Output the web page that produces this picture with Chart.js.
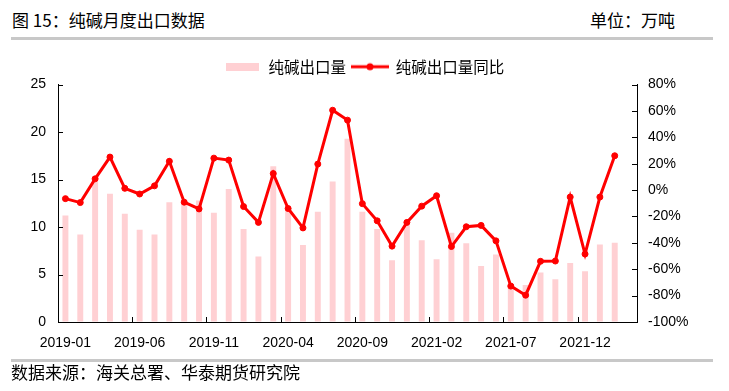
<!DOCTYPE html>
<html>
<head>
<meta charset="utf-8">
<script src="https://cdn.jsdelivr.net/npm/chart.js@4.4.1/dist/chart.umd.min.js"></script>
<style>
    body { margin: 0; background: #fff; }
    #wrap { position: relative; width: 729px; height: 391px; overflow: hidden; font-family: "Noto Sans CJK SC", sans-serif; color: #000; }
    #chart { position: absolute; left: 0; top: 0; }
    .txt { position: absolute; font-size: 17px; line-height: 22px; white-space: nowrap; }
    .rule { position: absolute; left: 11px; width: 702px; height: 3px; background: #c8c8c8; }
</style>
</head>
<body>
<div id="wrap">
    <div class="txt" style="left:12px; top:9px;">图 15：纯碱月度出口数据</div>
    <div class="txt" style="left:590px; top:9px;">单位：万吨</div>
    <div class="rule" style="top:37px;"></div>
    <canvas id="chart" width="729" height="391"></canvas>
    <div class="rule" style="top:359px;"></div>
    <div class="txt" style="left:11px; top:361px;">数据来源：海关总署、华泰期货研究院</div>
</div>
<script>
// Months on the x axis (last slot is empty in the source chart)
const months = [
    '2019-01', '2019-02', '2019-03', '2019-04', '2019-05', '2019-06', '2019-07', '2019-08', '2019-09', '2019-10', '2019-11', '2019-12',
    '2020-01', '2020-02', '2020-03', '2020-04', '2020-05', '2020-06', '2020-07', '2020-08', '2020-09', '2020-10', '2020-11', '2020-12',
    '2021-01', '2021-02', '2021-03', '2021-04', '2021-05', '2021-06', '2021-07', '2021-08', '2021-09', '2021-10', '2021-11', '2021-12',
    '2022-01', '2022-02', '2022-03'
];

// Export volume, 10k tonnes
const exportVolume = [
    11.2, 9.2, 14.8, 13.5, 11.4, 9.7, 9.2, 12.6, 12.5, 12.8, 11.5, 14.0,
    9.8, 6.9, 16.4, 11.8, 8.1, 11.6, 14.8, 19.3, 11.6, 9.8, 6.5, 10.2,
    8.6, 6.6, 9.4, 8.3, 5.9, 7.1, 4.0, 3.9, 5.2, 4.5, 6.2, 5.35,
    8.15, 8.35
];

// Year-on-year change, %
const exportYoY = [
    -6.5, -9.5, 8.5, 25, 1.3, -3, 3.2, 21.8, -9.2, -14.3, 24.2, 22.7,
    -12.5, -24.5, 12.5, -14, -28.7, 19.7, 60.5, 53, -10.3, -23.3, -42.5, -24.5,
    -12.2, -4.3, -42.8, -27.8, -26.8, -38.5, -72.8, -79.7, -54, -53.8, -5.3, -48.5,
    -5.3, 26
];

const leftTicks = { min: 0, max: 25, step: 5 };
const rightTicks = { min: -100, max: 80, step: 20 };

const barColor = '#ffd0d3';
const lineColor = '#ff0000';
const tickFont = { family: '"Liberation Sans", Arial, sans-serif', size: 14 };

// Legend icons
function makeIcon(w, h, draw) {
    const c = document.createElement('canvas');
    c.width = w; c.height = h;
    draw(c.getContext('2d'));
    return c;
}
const barIcon = makeIcon(33, 8, g => { g.fillStyle = barColor; g.fillRect(0, 0, 33, 8); });
const lineIcon = makeIcon(38, 10, g => {
    g.strokeStyle = lineColor; g.lineWidth = 3;
    g.beginPath(); g.moveTo(0, 5); g.lineTo(38, 5); g.stroke();
    g.fillStyle = lineColor;
    g.beginPath(); g.arc(19, 5, 3.5, 0, Math.PI * 2); g.fill();
});

// Tick marks point inward like the source chart
const innerTicks = {
    id: 'innerTicks',
    afterDraw(chart) {
        const { ctx, chartArea, scales } = chart;
        ctx.save();
        ctx.strokeStyle = '#000';
        ctx.lineWidth = 1;
        ctx.beginPath();
        const xs = scales.x;
        const step = xs.getPixelForValue(1) - xs.getPixelForValue(0);
        for (let i = 5; i < months.length; i += 5) {
            const px = Math.round(xs.getPixelForValue(i) - step / 2) + 0.5;
            ctx.moveTo(px, chartArea.bottom);
            ctx.lineTo(px, chartArea.bottom - 5);
        }
        for (let v = leftTicks.min; v <= leftTicks.max; v += leftTicks.step) {
            const py = Math.round(scales.y.getPixelForValue(v)) + 0.5;
            ctx.moveTo(chartArea.left, py);
            ctx.lineTo(chartArea.left + 5, py);
        }
        for (let v = rightTicks.min; v <= rightTicks.max; v += rightTicks.step) {
            const py = Math.round(scales.y1.getPixelForValue(v)) + 0.5;
            ctx.moveTo(chartArea.right, py);
            ctx.lineTo(chartArea.right - 5, py);
        }
        ctx.stroke();
        ctx.restore();
    }
};

new Chart(document.getElementById('chart'), {
    data: {
        labels: months,
        datasets: [
            {
                type: 'bar',
                label: '纯碱出口量',
                data: exportVolume,
                backgroundColor: barColor,
                yAxisID: 'y',
                categoryPercentage: 1,
                barPercentage: 0.4,
                order: 2
            },
            {
                type: 'line',
                label: '纯碱出口量同比',
                data: exportYoY,
                borderColor: lineColor,
                backgroundColor: lineColor,
                borderWidth: 3,
                pointRadius: 3,
                pointBorderWidth: 1,
                pointHoverRadius: 3,
                tension: 0,
                yAxisID: 'y1',
                order: 1
            }
        ]
    },
    options: {
        responsive: false,
        animation: false,
        layout: { padding: { top: 53, left: 0, right: 0, bottom: 39 } },
        plugins: {
            tooltip: { enabled: false },
            legend: {
                position: 'top',
                labels: {
                    usePointStyle: true,
                    pointStyleWidth: 36,
                    padding: 6,
                    color: '#000',
                    font: { family: '"Noto Sans CJK SC", sans-serif', size: 15.5 },
                    generateLabels: chart => {
                        const items = Chart.defaults.plugins.legend.labels.generateLabels(chart);
                        items.sort((a, b) => a.datasetIndex - b.datasetIndex);
                        items.forEach(it => { it.pointStyle = it.datasetIndex === 0 ? barIcon : lineIcon; });
                        return items;
                    }
                }
            }
        },
        scales: {
            x: {
                offset: true,
                grid: { display: true, offset: true, drawOnChartArea: false, drawTicks: false, color: 'transparent' },
                border: { display: true, color: '#000', width: 1 },
                ticks: {
                    autoSkip: false,
                    maxRotation: 0,
                    padding: 13,
                    color: '#000',
                    font: tickFont,
                    callback: (v, i) => (i % 5 === 0 ? months[i] : '')
                },
                afterFit: s => { s.height = 30; }
            },
            y: {
                position: 'left',
                min: leftTicks.min,
                max: leftTicks.max,
                grid: { drawOnChartArea: false, drawTicks: false },
                border: { display: true, color: '#000', width: 1 },
                ticks: { stepSize: leftTicks.step, padding: 12, color: '#000', font: tickFont },
                afterFit: s => { s.width = 58; }
            },
            y1: {
                position: 'right',
                min: rightTicks.min,
                max: rightTicks.max,
                grid: { drawOnChartArea: false, drawTicks: false },
                border: { display: true, color: '#000', width: 1 },
                ticks: { stepSize: rightTicks.step, padding: 11, color: '#000', font: tickFont, callback: v => v + '%' },
                afterFit: s => { s.width = 92; }
            }
        }
    },
    plugins: [innerTicks]
});
</script>
</body>
</html>
